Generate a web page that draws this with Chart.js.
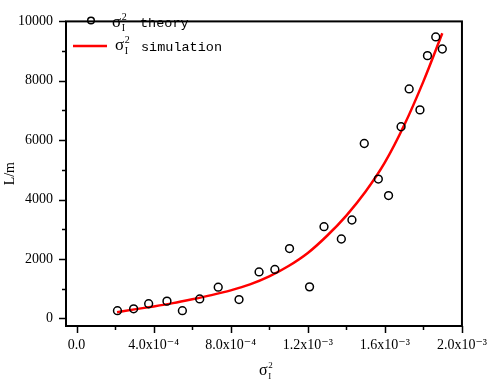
<!DOCTYPE html>
<html><head><meta charset="utf-8">
<script src="https://cdn.jsdelivr.net/npm/chart.js@4/dist/chart.umd.min.js"></script>
<style>html,body{margin:0;padding:0;background:#fff}#wrap{width:498px;height:381px}</style>
</head><body><div id="wrap"><canvas id="c" width="498" height="381"></canvas></div>
<script>
// data
const theoryX = [2.12e-4, 2.96e-4, 3.74e-4, 4.69e-4, 5.49e-4, 6.39e-4, 7.35e-4, 8.43e-4, 9.47e-4, 10.29e-4, 11.05e-4, 12.09e-4, 12.84e-4, 13.74e-4, 14.29e-4, 14.93e-4, 15.66e-4, 16.19e-4, 16.84e-4, 17.26e-4, 17.82e-4, 18.21e-4, 18.64e-4, 18.98e-4];
const theoryY = [256, 320, 490, 577, 256, 651, 1048, 631, 1561, 1644, 2349, 1058, 3086, 2670, 3311, 5888, 4689, 4134, 6452, 7724, 7019, 8846, 9477, 9070];
const simX = [2.1e-4, 3.0e-4, 4.0e-4, 5.0e-4, 6.0e-4, 7.0e-4, 8.0e-4, 9.0e-4, 10.0e-4, 11.0e-4, 12.0e-4, 13.0e-4, 14.0e-4, 15.0e-4, 16.0e-4, 17.0e-4, 18.0e-4, 18.98e-4];
const simY = [200, 300, 400, 510, 640, 780, 940, 1140, 1410, 1760, 2200, 2780, 3460, 4270, 5250, 6500, 7980, 9600];
const xTickValues = [0, 4e-4, 8e-4, 1.2e-3, 1.6e-3, 2.0e-3];
const xTickLabels = ['0.0', '4.0x10\u207B\u2074', '8.0x10\u207B\u2074', '1.2x10\u207B\u00B3', '1.6x10\u207B\u00B3', '2.0x10\u207B\u00B3'];
const xMinorTicks = [2e-4, 6e-4, 1.0e-3, 1.4e-3, 1.8e-3];
const yTickValues = [0, 2000, 4000, 6000, 8000, 10000];
const yTickLabels = ['0', '2000', '4000', '6000', '8000', '10000'];
const yMinorTicks = [1000, 3000, 5000, 7000, 9000];
const seriesNames = ['theory', 'simulation'];
const yTitle = 'L/m';

const serif = "'Liberation Serif', 'DejaVu Serif', serif";
const mono = "'Liberation Mono', 'DejaVu Sans Mono', monospace";

function drawSigmaLabel(ctx, x, y, size) {
  ctx.save();
  ctx.fillStyle = '#000';
  ctx.textBaseline = 'alphabetic';
  ctx.textAlign = 'left';
  ctx.font = size + 'px ' + serif;
  ctx.fillText('\u03C3', x, y);
  const w = ctx.measureText('\u03C3').width;
  const s = Math.round(size * 0.58);
  ctx.font = s + 'px ' + serif;
  ctx.fillText('2', x + w + 0.5, y - size * 0.42);
  ctx.fillText('I', x + w + 0.5, y + size * 0.22);
  ctx.restore();
  return w + s * 0.5 + 1;
}

const framePlugin = {
  id: 'frame',
  afterDraw(chart) {
    const ctx = chart.ctx;
    const a = chart.chartArea;
    const xs = chart.scales.x, ys = chart.scales.y;
    ctx.save();
    ctx.strokeStyle = '#000';
    ctx.lineWidth = 2;
    ctx.strokeRect(a.left, a.top, a.right - a.left, a.bottom - a.top);
    ctx.lineWidth = 1.5;
    ctx.beginPath();
    xTickValues.forEach(v => { const p = Math.round(xs.getPixelForValue(v)) + 0.5; ctx.moveTo(p, a.bottom); ctx.lineTo(p, a.bottom + 7); });
    xMinorTicks.forEach(v => { const p = Math.round(xs.getPixelForValue(v)) + 0.5; ctx.moveTo(p, a.bottom); ctx.lineTo(p, a.bottom + 4); });
    yTickValues.forEach(v => { const p = Math.round(ys.getPixelForValue(v)) + 0.5; ctx.moveTo(a.left, p); ctx.lineTo(a.left - 7, p); });
    yMinorTicks.forEach(v => { const p = Math.round(ys.getPixelForValue(v)) + 0.5; ctx.moveTo(a.left, p); ctx.lineTo(a.left - 4, p); });
    ctx.stroke();

    // legend
    ctx.lineWidth = 1.5;
    ctx.beginPath();
    ctx.arc(91, 20.5, 3.3, 0, Math.PI * 2);
    ctx.stroke();
    ctx.strokeStyle = '#ff0000';
    ctx.lineWidth = 2.5;
    ctx.beginPath();
    ctx.moveTo(73, 46); ctx.lineTo(107, 46);
    ctx.stroke();
    drawSigmaLabel(ctx, 112, 27, 17);
    drawSigmaLabel(ctx, 115, 50, 17);
    ctx.fillStyle = '#000';
    ctx.font = '13.5px ' + mono;
    ctx.textBaseline = 'alphabetic';
    ctx.fillText(seriesNames[0], 140, 27);
    ctx.fillText(seriesNames[1], 141, 51);

    // x title
    drawSigmaLabel(ctx, 259, 375, 16);
    ctx.restore();
  }
};

new Chart(document.getElementById('c'), {
  type: 'scatter',
  data: {
    datasets: [
      {
        label: '\u03C3\u00B2 ' + seriesNames[0],
        data: theoryX.map((x, i) => ({ x: x, y: theoryY[i] })),
        showLine: false,
        pointStyle: 'circle',
        pointRadius: 3.9,
        pointBorderWidth: 1.5,
        borderColor: '#000',
        backgroundColor: 'rgba(0,0,0,0)',
        order: 0
      },
      {
        label: '\u03C3\u00B2 ' + seriesNames[1],
        data: simX.map((x, i) => ({ x: x, y: simY[i] })),
        showLine: true,
        borderColor: '#ff0000',
        borderWidth: 2.5,
        pointRadius: 0,
        cubicInterpolationMode: 'monotone',
        fill: false,
        order: 1
      }
    ]
  },
  options: {
    responsive: false,
    animation: false,
    layout: { padding: { top: 6, right: 30, left: 0, bottom: 0 } },
    plugins: { legend: { display: false }, tooltip: { enabled: false } },
    scales: {
      x: {
        type: 'linear',
        min: -0.55e-4,
        max: 2.0e-3,
        grid: { display: false, drawTicks: false },
        border: { display: false },
        afterBuildTicks: s => { s.ticks = xTickValues.map(v => ({ value: v })); },
        afterFit: s => { s.height = 55; },
        ticks: {
          padding: 11,
          maxRotation: 0,
          autoSkip: false,
          color: '#000',
          font: { family: serif, size: 14 },
          callback: (v, i) => xTickLabels[i]
        }
      },
      y: {
        type: 'linear',
        min: -260,
        max: 10000,
        grid: { display: false, drawTicks: false },
        border: { display: false },
        afterBuildTicks: s => { s.ticks = yTickValues.map(v => ({ value: v })); },
        afterFit: s => { s.width = 66; },
        ticks: {
          padding: 13,
          autoSkip: false,
          color: '#000',
          font: { family: serif, size: 14 },
          callback: (v, i) => yTickLabels[i]
        },
        title: {
          display: true,
          text: yTitle,
          color: '#000',
          padding: { top: 2, bottom: 0 },
          font: { family: serif, size: 14 }
        }
      }
    }
  },
  plugins: [framePlugin]
});
</script>
</body></html>
